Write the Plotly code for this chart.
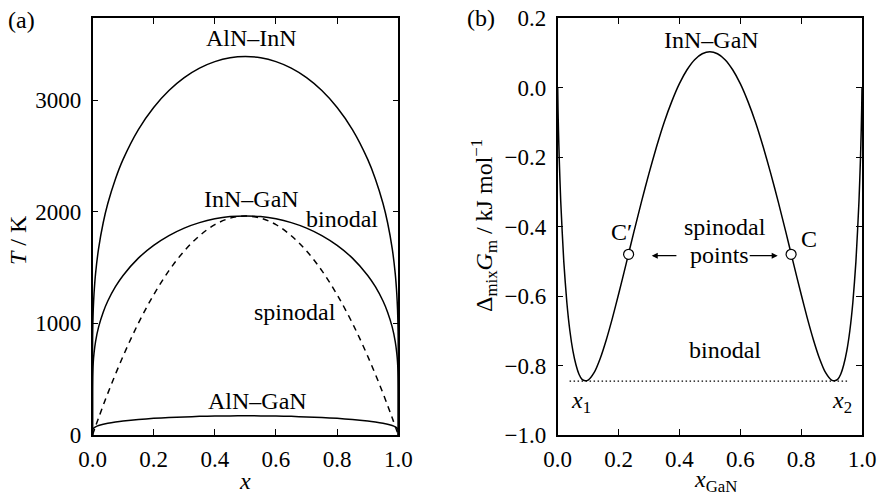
import plotly.graph_objects as go

# ---------------- data: panel (a) ----------------
x_bin = [0, 0.00001, 0.0001, 0.0005, 0.001, 0.0025, 0.005, 0.01, 0.02, 0.035, 0.05, 0.075,
         0.1, 0.15, 0.2, 0.25, 0.3, 0.35, 0.4, 0.45, 0.5, 0.55, 0.6, 0.65, 0.7, 0.75, 0.8,
         0.85, 0.9, 0.925, 0.95, 0.965, 0.98, 0.99, 0.995, 0.9975, 0.999, 0.9995, 0.9999,
         0.99999, 1.0]
T_AlN_InN = [0, 589, 736, 891, 980, 1126, 1268, 1446, 1672, 1901, 2073, 2294,
             2469, 2736, 2934, 3086, 3201, 3286, 3344, 3379, 3390, 3379, 3344, 3286, 3201, 3086, 2934,
             2736, 2469, 2294, 2073, 1901, 1672, 1446, 1268, 1126, 980, 891, 736,
             589, 0]
T_InN_GaN = [0, 341, 426, 516, 567, 652, 734, 837, 968, 1100, 1200, 1328,
             1429, 1584, 1698, 1786, 1853, 1902, 1936, 1956, 1962, 1956, 1936, 1902, 1853, 1786, 1698,
             1584, 1429, 1328, 1200, 1100, 968, 837, 734, 652, 567, 516, 426,
             341, 0]
T_AlN_GaN = [0, 30, 37, 45, 50, 57, 64, 73, 85, 96, 105, 116,
             125, 139, 149, 157, 162, 167, 170, 171, 172, 171, 170, 167, 162, 157, 149,
             139, 125, 116, 105, 96, 85, 73, 64, 57, 50, 45, 37,
             30, 0]
x_spin = [0, 0.02, 0.05, 0.1, 0.15, 0.2, 0.25, 0.3, 0.35, 0.4, 0.45, 0.5,
          0.55, 0.6, 0.65, 0.7, 0.75, 0.8, 0.85, 0.9, 0.95, 0.98, 1.0]
T_spin = [0, 154, 373, 706, 1001, 1256, 1472, 1648, 1785, 1884, 1942, 1962,
          1942, 1884, 1785, 1648, 1472, 1256, 1001, 706, 373, 154, 0]

# ---------------- data: panel (b) ----------------
x_gan = [0, 0.001, 0.0025, 0.005, 0.01, 0.02, 0.03, 0.04, 0.05, 0.06, 0.07, 0.08, 0.09,
         0.10, 0.12, 0.14, 0.16, 0.18, 0.20, 0.225, 0.25, 0.275, 0.30, 0.325, 0.35, 0.375,
         0.40, 0.425, 0.45, 0.475, 0.50, 0.525, 0.55, 0.575, 0.60, 0.625, 0.65, 0.675,
         0.70, 0.725, 0.75, 0.775, 0.80, 0.82, 0.84, 0.86, 0.88, 0.90, 0.91, 0.92, 0.93,
         0.94, 0.95, 0.96, 0.97, 0.98, 0.99, 0.995, 0.9975, 0.999, 1.0]
G_mix = [0, -0.059, -0.122, -0.204, -0.328, -0.501, -0.618, -0.700, -0.758, -0.798, -0.825, -0.840, -0.844,
         -0.842, -0.820, -0.779, -0.725, -0.663, -0.595, -0.507, -0.417, -0.330, -0.247, -0.170, -0.100, -0.040,
         0.011, 0.051, 0.080, 0.097, 0.103, 0.097, 0.080, 0.051, 0.011, -0.040, -0.100, -0.170,
         -0.247, -0.330, -0.417, -0.507, -0.595, -0.663, -0.725, -0.779, -0.820, -0.842, -0.844, -0.840, -0.825,
         -0.798, -0.758, -0.700, -0.618, -0.501, -0.328, -0.204, -0.122, -0.059, 0]
x_spinodal_pts = [0.233, 0.767]
G_spinodal_pts = [-0.480, -0.480]
x_binodal_line = [0.039, 0.951]
G_binodal_line = [-0.845, -0.845]

FONT = "Liberation Serif"
FS = 24
TFS = 23

W, H = 881, 502

def fx(p):
    return p / W

def fy(p):
    return 1 - p / H

fig = go.Figure()
line = dict(color="black", width=1.5, shape="spline", smoothing=0.6)
for T in (T_AlN_InN, T_InN_GaN, T_AlN_GaN):
    fig.add_trace(go.Scatter(x=x_bin, y=T, mode="lines", line=line, xaxis="x", yaxis="y",
                             hoverinfo="skip", showlegend=False))
fig.add_trace(go.Scatter(x=x_spin, y=T_spin, mode="lines",
                         line=dict(color="black", width=1.5, dash="6px,5px", shape="spline"),
                         xaxis="x", yaxis="y", showlegend=False))

fig.add_trace(go.Scatter(x=x_binodal_line, y=G_binodal_line, mode="lines",
                         line=dict(color="black", width=1.3, dash="1.5px,2.5px"),
                         xaxis="x2", yaxis="y2", showlegend=False))
fig.add_trace(go.Scatter(x=x_gan, y=G_mix, mode="lines", line=line,
                         xaxis="x2", yaxis="y2", showlegend=False))
fig.add_trace(go.Scatter(x=x_spinodal_pts, y=G_spinodal_pts, mode="markers",
                         marker=dict(size=10, color="white", line=dict(color="black", width=1.2)),
                         xaxis="x2", yaxis="y2", showlegend=False))

ydom = [fy(435), fy(18)]
axis_common = dict(showline=True, linecolor="black", linewidth=1.5, mirror="ticks",
                   ticks="inside", ticklen=6, tickwidth=1.2, tickcolor="black",
                   showgrid=False, zeroline=False, automargin=False,
                   ticklabeloverflow="allow",
                   tickfont=dict(family=FONT, size=TFS, color="black"))

fig.update_layout(
    width=W, height=H, autosize=False,
    margin=dict(l=0, r=0, t=0, b=0, pad=0),
    paper_bgcolor="white", plot_bgcolor="white",
    font=dict(family=FONT, size=FS, color="black"),
    xaxis=dict(domain=[fx(92.5), fx(398.3)], range=[0, 1], dtick=0.2, tick0=0,
               tickformat=".1f", anchor="y", ticklabelstandoff=3, **axis_common),
    yaxis=dict(domain=ydom, range=[0, 3735], dtick=1000, tick0=0, anchor="x",
               ticklabelstandoff=5, **axis_common),
    xaxis2=dict(domain=[fx(557.7), fx(862)], range=[0, 1], dtick=0.2, tick0=0,
                tickformat=".1f", anchor="y2", ticklabelstandoff=3, **axis_common),
    yaxis2=dict(domain=ydom, range=[-1.0, 0.2], dtick=0.2, tick0=0, tickformat=".1f",
                anchor="x2", ticklabelstandoff=5, **axis_common),
)

def txt(x, y, s, xref, yref, **kw):
    kw.setdefault("xanchor", "center")
    kw.setdefault("yanchor", "middle")
    fig.add_annotation(x=x, y=y, text=s, xref=xref, yref=yref, showarrow=False,
                       font=dict(family=FONT, size=kw.pop("size", FS), color="black"), **kw)

# panel (a) labels
txt(0.52, 3555, "AlN\u2013InN", "x", "y")
txt(0.52, 2113, "InN\u2013GaN", "x", "y")
txt(0.815, 1934, "binodal", "x", "y")
txt(0.662, 1104, "spinodal", "x", "y")
txt(0.538, 307, "AlN\u2013GaN", "x", "y")

# panel (b) labels
txt(0.507, 0.137, "InN\u2013GaN", "x2", "y2")
txt(0.21, -0.416, "C\u2032", "x2", "y2")
txt(0.826, -0.435, "C", "x2", "y2")
txt(0.551, -0.401, "spinodal", "x2", "y2")
txt(0.533, -0.482, "points", "x2", "y2")
txt(0.551, -0.756, "binodal", "x2", "y2")
txt(0.078, -0.904, "<i>x</i><sub>1</sub>", "x2", "y2")
txt(0.935, -0.904, "<i>x</i><sub>2</sub>", "x2", "y2")

# arrows
for (xh, xt) in ((0.309, 0.395), (0.723, 0.626)):
    fig.add_annotation(x=xh, y=-0.484, ax=xt, ay=-0.484, xref="x2", yref="y2",
                       axref="x2", ayref="y2", text="", showarrow=True,
                       arrowhead=2, arrowsize=1, arrowwidth=1.2, arrowcolor="black",
                       standoff=0, startstandoff=0)

# panel tags
txt(fx(21.5), fy(20), "(a)", "paper", "paper")
txt(fx(481), fy(18), "(b)", "paper", "paper")

# axis titles
txt(fx(245), fy(481), "<i>x</i>", "paper", "paper")
txt(fx(715), fy(481), "<i>x</i><sub>GaN</sub>", "paper", "paper")
txt(fx(18), fy(240), "<i>T</i> / K", "paper", "paper", textangle=-90)
txt(fx(484), fy(226),
    "\u0394<sub>mix</sub><i>G</i><sub>m</sub> / kJ mol<sup>\u22121</sup>",
    "paper", "paper", textangle=-90)

fig.write_html("out.html", config={"displayModeBar": False},
               post_script="document.body.style.margin='0';document.body.style.overflow='hidden';")
